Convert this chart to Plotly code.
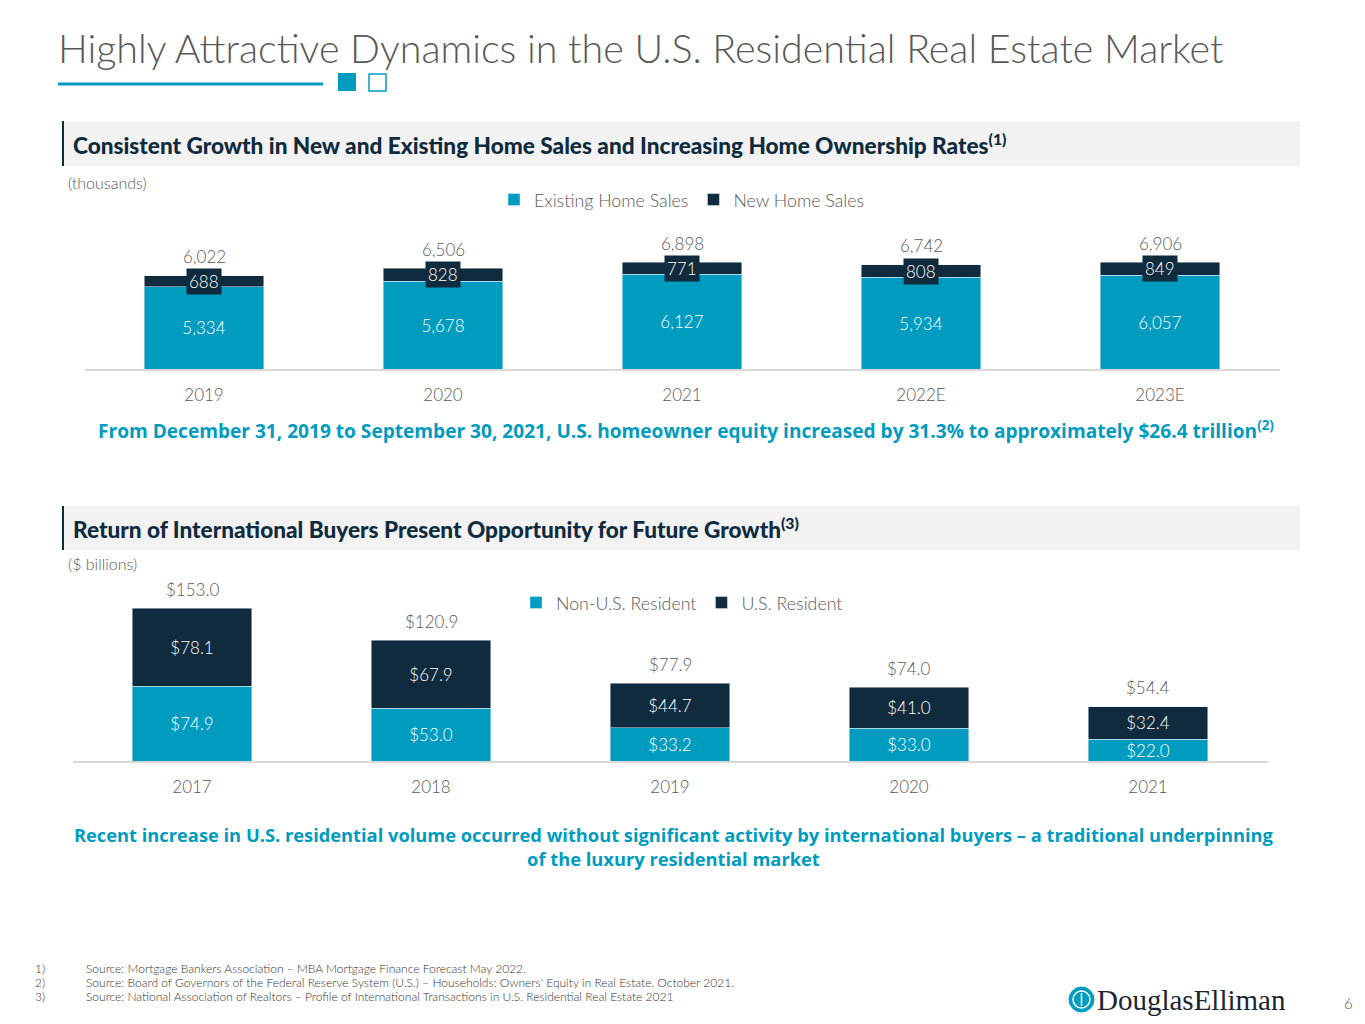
import plotly.graph_objects as go

# ---- data ----
sales_years = ["2019", "2020", "2021", "2022E", "2023E"]
existing_sales = [5334, 5678, 6127, 5934, 6057]
new_sales = [688, 828, 771, 808, 849]
total_sales = [6022, 6506, 6898, 6742, 6906]

intl_years = ["2017", "2018", "2019", "2020", "2021"]
non_us_resident = [74.9, 53.0, 33.2, 33.0, 22.0]
us_resident = [78.1, 67.9, 44.7, 41.0, 32.4]
intl_totals = [153.0, 120.9, 77.9, 74.0, 54.4]

footnotes = [
    "Source: Mortgage Bankers Association \u2013 MBA Mortgage Finance Forecast May 2022.",
    "Source: Board of Governors of the Federal Reserve System (U.S.) \u2013 Households; Owners' Equity in Real Estate, October 2021.",
    "Source: National Association of Realtors \u2013 Profile of International Transactions in U.S. Residential Real Estate 2021",
]

# page body adds an 8px margin, so the figure is drawn 8px in and sized to fit
OFF = 8
W, H = 1365 - 2 * OFF, 1024 - 2 * OFF
TEAL = "#009CBF"
NAVY = "#0F2B3D"
GREY = "#595959"
FONT = "Lato"


def px(x):
    # target page pixel -> paper x
    return (x - OFF) / W


def py(y):
    return 1 - (y - OFF) / H


def light(size, color=GREY):
    return dict(size=size, color=color, family=FONT, weight=300)


def heavy(size, color, family=FONT, weight=900):
    return dict(size=size, color=color, family=family, weight=weight)


fig = go.Figure()

# top chart: home sales
fig.add_trace(go.Bar(x=sales_years, y=existing_sales, name="Existing Home Sales", marker_color=TEAL,
                     text=[f"{v:,}" for v in existing_sales], textposition="inside", insidetextanchor="middle",
                     constraintext="none", textfont=light(17, "white"), xaxis="x", yaxis="y", legend="legend"))
fig.add_trace(go.Bar(x=sales_years, y=new_sales, name="New Home Sales", marker_color=NAVY,
                     textposition="none", xaxis="x", yaxis="y", legend="legend"))

# bottom chart: international buyers
fig.add_trace(go.Bar(x=intl_years, y=non_us_resident, name="Non-U.S. Resident", marker_color=TEAL,
                     text=[f"${v:.1f}" for v in non_us_resident], textposition="inside", insidetextanchor="middle",
                     constraintext="none", textfont=light(17, "white"), xaxis="x2", yaxis="y2", legend="legend2"))
fig.add_trace(go.Bar(x=intl_years, y=us_resident, name="U.S. Resident", marker_color=NAVY,
                     text=[f"${v:.1f}" for v in us_resident], textposition="inside", insidetextanchor="middle",
                     constraintext="none", textfont=light(17, "white"), xaxis="x2", yaxis="y2", legend="legend2"))

annotations = []

# totals above bars (x given as category index)
for i, t in enumerate(total_sales):
    annotations.append(dict(x=i, y=t, xref="x", yref="y", text=f"{t:,}", showarrow=False, yshift=19,
                            font=light(17)))
for i, t in enumerate(intl_totals):
    annotations.append(dict(x=i, y=t, xref="x2", yref="y2", text=f"${t:.1f}", showarrow=False, yshift=19,
                            font=light(17)))

# new home sales labels in dark boxes
for i, (e, n) in enumerate(zip(existing_sales, new_sales)):
    annotations.append(dict(x=i, y=e + n / 2, xref="x", yref="y", text=f"{n:,}", showarrow=False,
                            bgcolor=NAVY, borderpad=2, font=light(17, "white")))


def note(x, y, text, font, anchor="left"):
    return dict(x=px(x), y=py(y), xref="paper", yref="paper", xanchor=anchor, yanchor="middle",
                showarrow=False, text=text, font=font)


# title, headings, callouts
annotations += [
    note(56, 48, "Highly Attractive Dynamics in the U.S. Residential Real Estate Market", light(39.4)),
    note(71, 144, "Consistent Growth in New and Existing Home Sales and Increasing Home Ownership Rates<sup>(1)</sup>",
         heavy(22.6, NAVY)),
    note(66, 182, "(thousands)", light(16)),
    note(686, 430, "From December 31, 2019 to September 30, 2021, U.S. homeowner equity increased by 31.3% "
                   "to approximately $26.4 trillion<sup>(2)</sup>", heavy(19.1, TEAL, "Open Sans", 700), "center"),
    note(71, 528, "Return of International Buyers Present Opportunity for Future Growth<sup>(3)</sup>",
         heavy(22.6, NAVY)),
    note(66, 563, "($ billions)", light(16)),
    note(674, 846, "Recent increase in U.S. residential volume occurred without significant activity by "
                   "international buyers \u2013 a traditional underpinning<br>of the luxury residential market",
         heavy(18.3, TEAL, "Open Sans", 700), "center"),
    note(1095, 1000, "DouglasElliman", dict(size=29, color="#1B2433", family="Liberation Serif")),
    note(1348, 1003, "6", light(15), "center"),
]

# footnotes
for i, txt in enumerate(footnotes):
    yy = 968 + i * 14
    annotations.append(note(33, yy, f"{i + 1})", light(12, "#333333")))
    annotations.append(note(84, yy, txt, light(12, "#333333")))


def rect(x0, y0, x1, y1, **kw):
    return dict(type="rect", xref="paper", yref="paper", x0=px(x0), x1=px(x1), y0=py(y1), y1=py(y0), **kw)


def line(x0, y0, x1, y1, color, width):
    return dict(type="line", xref="paper", yref="paper", x0=px(x0), x1=px(x1), y0=py(y0), y1=py(y1),
                line=dict(color=color, width=width))


shapes = [
    # title underline and squares
    line(58, 84, 323, 84, TEAL, 3),
    rect(338, 73, 356, 91, fillcolor=TEAL, line=dict(width=0)),
    rect(369, 74, 386, 91, fillcolor="white", line=dict(color=TEAL, width=1.5)),
    # header bands
    rect(62, 121, 1300, 166, fillcolor="#F2F2F2", line=dict(width=0), layer="below"),
    line(63, 121, 63, 166, NAVY, 2),
    rect(62, 506, 1300, 550, fillcolor="#F2F2F2", line=dict(width=0), layer="below"),
    line(63, 506, 63, 550, NAVY, 2),
    # logo emblem
    dict(type="circle", xref="paper", yref="paper", x0=px(1069), x1=px(1094), y0=py(1012), y1=py(987),
         fillcolor=TEAL, line=dict(color=TEAL, width=1)),
    dict(type="circle", xref="paper", yref="paper", x0=px(1073), x1=px(1090), y0=py(1008), y1=py(991),
         fillcolor="rgba(0,0,0,0)", line=dict(color="white", width=1.5)),
    line(1081.5, 993, 1081.5, 1006, "white", 1.5),
]

top_scale = 0.01546  # px per thousand
yaxis_common = dict(showgrid=False, zeroline=False, showticklabels=False, automargin=False, fixedrange=True)
xaxis_common = dict(type="category", range=[-0.5, 4.5], showline=True, linecolor="#D9D9D9", linewidth=2,
                    showgrid=False, ticks="", tickfont=light(17), ticklabelstandoff=10, automargin=False)

fig.update_layout(
    width=W, height=H,
    margin=dict(l=0, r=0, t=0, b=0, autoexpand=False),
    paper_bgcolor="white", plot_bgcolor="white",
    barmode="stack", bargap=0.5,
    font=dict(family=FONT, color=GREY),
    xaxis=dict(domain=[px(84.5), px(1279.5)], anchor="y", **xaxis_common),
    yaxis=dict(domain=[py(369), py(210)], range=[0, 159 / top_scale], anchor="x", **yaxis_common),
    xaxis2=dict(domain=[px(72.5), px(1267.5)], anchor="y2", **xaxis_common),
    yaxis2=dict(domain=[py(761), py(585)], range=[0, 176], anchor="x2", **yaxis_common),
    legend=dict(orientation="h", x=px(682), xanchor="center", y=py(200), yanchor="middle",
                font=light(17.8), itemwidth=30, traceorder="normal"),
    legend2=dict(orientation="h", x=px(682), xanchor="center", y=py(603), yanchor="middle",
                 font=light(17.8), itemwidth=30, traceorder="normal"),
    annotations=annotations,
    shapes=shapes,
)

fig.write_html("out.html")
